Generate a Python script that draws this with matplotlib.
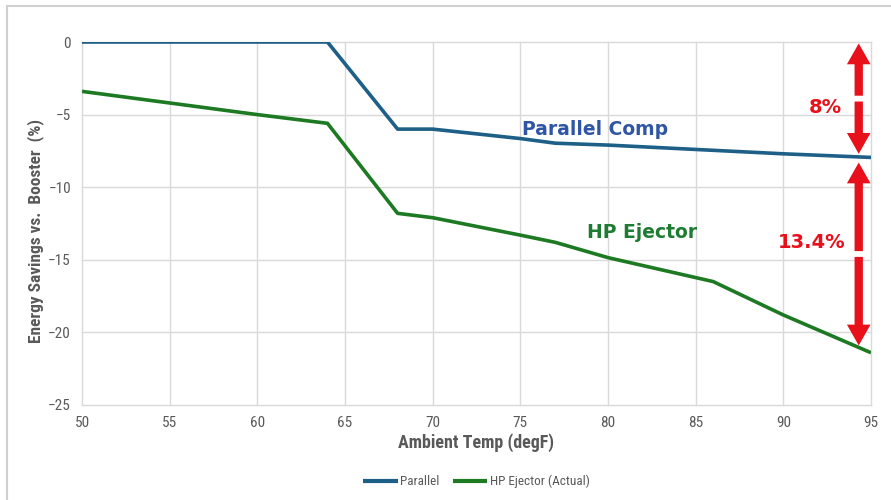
import matplotlib
matplotlib.use("Agg")
import matplotlib.pyplot as plt
from matplotlib.patches import FancyArrowPatch, Rectangle

temp = [50, 55, 60, 64, 68, 70, 75, 77, 80, 85, 90, 95]
parallel = [0, 0, 0, 0, -6.0, -6.0, -6.65, -6.97, -7.1, -7.4, -7.7, -7.95]
ejector = [-3.4, -4.2, -5.0, -5.6, -11.8, -12.1, -13.3, -13.8, -14.85, -16.5, -18.8, -21.4]
# kink in the ejector curve near 86F
temp_ej = [50, 55, 60, 64, 68, 70, 75, 77, 80, 86, 90, 95]

xticks = list(range(50, 96, 5))
yticks = list(range(-25, 1, 5))

font = ["Liberation Sans Narrow", "Roboto Condensed", "Roboto"]
grey = "#595959"
blue = "#1D5F86"
green = "#1D7A23"
red = "#E8101A"

fig = plt.figure(figsize=(8.91, 5.0), dpi=100)
fig.patches.append(Rectangle((7 / 891, -0.01), 1.0, 1 - 6 / 500 + 0.01,
                             transform=fig.transFigure, fill=False,
                             edgecolor="#D0D0D0", linewidth=1.5))
ax = fig.add_axes([82 / 891, 1 - 405 / 500, 789 / 891, 363 / 500])

ax.plot(temp, parallel, color=blue, lw=2.6, label="Parallel", solid_capstyle="butt")
ax.plot(temp_ej, ejector, color=green, lw=2.6, label="HP Ejector (Actual)", solid_capstyle="butt")

ax.set_xlim(50, 95)
ax.set_ylim(-25, 0)
ax.set_xticks(xticks)
ax.set_yticks(yticks)
ax.grid(True, color="#D9D9D9", lw=1)
for gl in ax.get_xgridlines() + ax.get_ygridlines():
    gl.set_clip_on(False)
ax.set_axisbelow(True)
for s in ax.spines.values():
    s.set_visible(False)
ax.tick_params(length=0, labelsize=11, labelcolor=grey, pad=8)
for lab in ax.get_xticklabels() + ax.get_yticklabels():
    lab.set_family(font)

ax.set_xlabel("Ambient Temp (degF)", family=font, fontsize=13, fontweight="bold",
              color=grey, labelpad=2)
ax.set_ylabel("Energy Savings vs.  Booster  (%)", family=font, fontsize=12.5,
              fontweight="bold", color=grey)
ax.yaxis.set_label_coords(-0.048, 0.48)

ax.text(75.1, -6.7, "Parallel Comp", color="#2F55A4", fontsize=13.5, fontweight="bold",
        family="DejaVu Sans", va="bottom")
ax.text(78.8, -13.8, "HP Ejector", color="#1E7B32", fontsize=13.5, fontweight="bold",
        family="DejaVu Sans", va="bottom")
ax.text(92.4, -4.5, "8%", color=red, fontsize=14, fontweight="bold",
        family="DejaVu Sans", ha="center", va="center")
ax.text(91.6, -13.8, "13.4%", color=red, fontsize=14, fontweight="bold",
        family="DejaVu Sans", ha="center", va="center")

ax_x = 94.3
style = "simple,head_length=1.5,head_width=1.7,tail_width=0.6"
for y0, y1 in [(-3.7, -0.1), (-4.1, -7.7), (-14.4, -8.3), (-14.8, -20.9)]:
    ax.add_patch(FancyArrowPatch((ax_x, y0), (ax_x, y1), arrowstyle=style,
                                 mutation_scale=10, color=red, lw=0,
                                 shrinkA=0, shrinkB=0, clip_on=False))

leg = ax.legend(loc="upper center", bbox_to_anchor=(0.5, -0.16), ncol=2, frameon=False,
                prop={"family": font, "size": 9.5}, handlelength=2.6, columnspacing=1.0,
                handletextpad=0.2)
for t in leg.get_texts():
    t.set_color(grey)
for h in leg.get_lines():
    h.set_linewidth(3)

fig.savefig("out.png", dpi=100)
